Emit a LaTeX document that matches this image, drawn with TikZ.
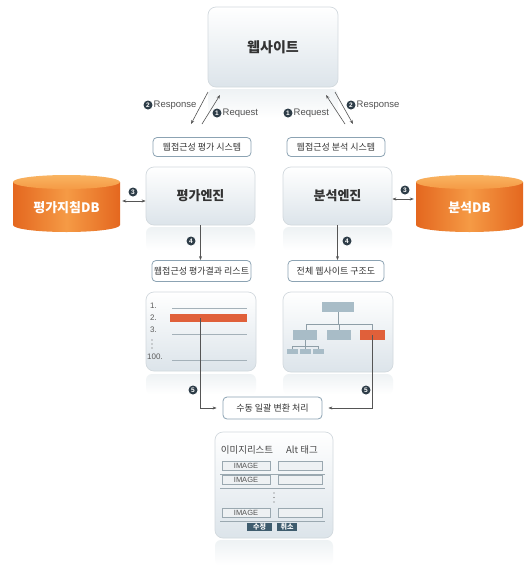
\documentclass[tikz,border=0pt]{standalone}
\usepackage{fontspec}
\setmainfont{Liberation Sans}
\newfontfamily\kr{Noto Sans CJK KR}
\usetikzlibrary{arrows.meta}
\definecolor{pborder}{HTML}{D2D9DE}
\definecolor{pbottom}{HTML}{DCE4EA}
\definecolor{lborder}{HTML}{8CA3B3}
\definecolor{txt}{HTML}{333333}
\definecolor{numfill}{HTML}{2E3D48}
\definecolor{arrc}{HTML}{555555}
\definecolor{orgdark}{HTML}{E4671F}
\definecolor{orglight}{HTML}{F59A45}
\definecolor{orgtop}{HTML}{F9B461}
\definecolor{redbar}{HTML}{E0603A}
\definecolor{treeblue}{HTML}{A8BCC7}
\definecolor{treeline}{HTML}{8E9EA7}
\definecolor{btn}{HTML}{3E5C6E}
\definecolor{cellfill}{HTML}{EEF1F3}
\definecolor{cellline}{HTML}{9AA8B0}
\definecolor{refltop}{HTML}{EEF2F4}
\begin{document}
\begin{tikzpicture}[x=1pt,y=-1pt,
  panel/.style={rounded corners=8pt, draw=pborder, line width=0.7pt, top color=white, bottom color=pbottom, inner sep=0pt, text=txt},
  refl/.style={rounded corners=6pt, top color=refltop, bottom color=white, draw=none},
  lbl/.style={rounded corners=4pt, draw=lborder, line width=0.8pt, fill=white, inner sep=0pt, text=txt, font=\kr\fontsize{9}{10}\selectfont},
  numc/.style={circle, fill=numfill, text=white, font=\bfseries\fontsize{6.5}{6.5}\selectfont, inner sep=0pt, minimum size=9pt},
  arr/.style={-{Stealth[length=4pt,width=3pt]}, draw=arrc, line width=0.6pt},
  darr/.style={{Stealth[length=4pt,width=3pt]}-{Stealth[length=4pt,width=3pt]}, draw=arrc, line width=0.6pt},
  smtxt/.style={text=txt!85, font=\fontsize{9.5}{10}\selectfont, inner sep=0pt, anchor=west},
  listtxt/.style={text=txt!80, font=\fontsize{8}{9}\selectfont, inner sep=0pt, anchor=west},
  cell/.style={fill=cellfill, draw=cellline, line width=0.5pt},
  tree/.style={fill=treeblue, draw=none},
  tln/.style={draw=treeline, line width=0.6pt},
  btnst/.style={fill=btn, text=white, inner sep=0pt, font=\kr\bfseries\fontsize{7}{7}\selectfont}
]
\useasboundingbox (0,0) rectangle (525,574);
\fill[white] (0,0) rectangle (525,574);

% reflections
\path[refl] (208,89) rectangle (338,118);
\path[refl] (146,227) rectangle (255,250);
\path[refl] (283,227) rectangle (392,250);
\path[refl] (146,374) rectangle (256,394);
\path[refl] (283,374) rectangle (393,394);
\path[refl] (215,540) rectangle (333,565);

% website
\node[panel, minimum width=130pt, minimum height=80pt, font=\kr\bfseries\fontsize{14}{16}\selectfont] (web) at (273,47) {웹사이트};

% system labels
\node[lbl, minimum width=98pt, minimum height=19pt] (sys1) at (202,147) {웹접근성 평가 시스템};
\node[lbl, minimum width=98pt, minimum height=19pt] (sys2) at (336,147) {웹접근성 분석 시스템};

% request / response arrows
\coordinate (lr1) at (208,92); \coordinate (lr2) at (191,124);
\coordinate (lq1) at (202,124); \coordinate (lq2) at (220,95);
\coordinate (rq1) at (345,124); \coordinate (rq2) at (326,95);
\coordinate (rr1) at (335,92); \coordinate (rr2) at (353,124);
\draw[arr] (lr1) -- (lr2);
\draw[arr] (lq1) -- (lq2);
\draw[arr] (rq1) -- (rq2);
\draw[arr] (rr1) -- (rr2);
\node[numc] (n2a) at (148,105) {2};
\node[smtxt] (t2a) at (153.5,105) {Response};
\node[numc] (n1a) at (217,113) {1};
\node[smtxt] (t1a) at (222.5,113) {Request};
\node[numc] (n1b) at (288,113) {1};
\node[smtxt] (t1b) at (293.5,113) {Request};
\node[numc] (n2b) at (351,105) {2};
\node[smtxt] (t2b) at (356.5,105) {Response};

% engines
\node[panel, minimum width=109pt, minimum height=58pt, font=\kr\bfseries\fontsize{13}{15}\selectfont] (eng1) at (200.5,196) {평가엔진};
\node[panel, minimum width=109pt, minimum height=58pt, font=\kr\bfseries\fontsize{13}{15}\selectfont] (eng2) at (337.5,196) {분석엔진};

% DB cylinders
\path[left color=orgdark, right color=orgdark, middle color=orglight]
  (13,182) -- (13,225) arc[start angle=180, end angle=360, x radius=53.5pt, y radius=7pt] -- (120,182) -- cycle;
\path[top color=orgtop, bottom color=orglight] (66.5,182) ellipse[x radius=53.5pt, y radius=7pt];
\path[left color=orgdark, right color=orgdark, middle color=orglight]
  (416,182) -- (416,225) arc[start angle=180, end angle=360, x radius=53.5pt, y radius=7pt] -- (523,182) -- cycle;
\path[top color=orgtop, bottom color=orglight] (469.5,182) ellipse[x radius=53.5pt, y radius=7pt];
\node[minimum width=107pt, minimum height=54pt, inner sep=0pt] (db1) at (66.5,201) {};
\node[text=white, font=\kr\bfseries\fontsize{13}{15}\selectfont, inner sep=0pt] (db1t) at (66.5,208) {평가지침DB};
\node[minimum width=107pt, minimum height=54pt, inner sep=0pt] (db2) at (469.5,199) {};
\node[text=white, font=\kr\bfseries\fontsize{13}{15}\selectfont, inner sep=0pt] (db2t) at (469.5,208) {분석DB};

\draw[darr] ([xshift=2pt]db1.east) -- (eng1.west |- db1.east);
\draw[darr] (eng2.east |- db2.west) -- ([xshift=-2pt]db2.west);
\node[numc] (n3a) at (133,192) {3};
\node[numc] (n3b) at (405,190) {3};

% result labels
\node[lbl, minimum width=99pt, minimum height=21pt] (res1) at (201.5,271) {웹접근성 평가결과 리스트};
\node[lbl, minimum width=96pt, minimum height=21pt] (res2) at (336,271) {전체 웹사이트 구조도};
\draw[arr] (eng1.south) -- (eng1.south |- res1.north);
\draw[arr] (eng2.south) -- (eng2.south |- res2.north);
\node[numc] (n4a) at (191,241) {4};
\node[numc] (n4b) at (347,241) {4};

% list panel
\node[panel, minimum width=110pt, minimum height=79pt] (list) at (201,331.5) {};
\node[listtxt] (l1) at (150,306) {1.};
\node[listtxt] (l2) at (150,318) {2.};
\node[listtxt] (l3) at (150,330) {3.};
\node[listtxt] (l100) at (147,357) {100.};
\draw[treeline!80, line width=0.6pt] (172,308) -- (247,308);
\draw[treeline!80, line width=0.6pt] (172,334) -- (247,334);
\draw[treeline!80, line width=0.6pt] (172,360) -- (247,360);
\node[fill=redbar, minimum width=77pt, minimum height=8pt, inner sep=0pt] (bar1) at (208.5,318) {};
\foreach \yy in {340,344,348} \fill[txt!80] (152,\yy) circle (0.7pt);

% tree panel
\node[panel, minimum width=110pt, minimum height=80pt] (treep) at (338,332) {};
\draw[tln] (338,312) -- (338,324);
\draw[tln] (306,330) -- (306,324) -- (372,324) -- (372,330);
\draw[tln] (339,324) -- (339,330);
\draw[tln] (292,349) -- (292,346) -- (318,346) -- (318,349);
\draw[tln] (305,340) -- (305,349);
\node[tree, minimum width=32pt, minimum height=10pt, inner sep=0pt] (troot) at (338,307) {};
\node[tree, minimum width=24pt, minimum height=10pt, inner sep=0pt] (tc1) at (305,335) {};
\node[tree, minimum width=24pt, minimum height=10pt, inner sep=0pt] (tc2) at (339,335) {};
\node[fill=redbar, minimum width=25pt, minimum height=10pt, inner sep=0pt] (red2) at (372.5,335) {};
\node[tree, minimum width=11pt, minimum height=5pt, inner sep=0pt] (tg1) at (292.5,351.5) {};
\node[tree, minimum width=11pt, minimum height=5pt, inner sep=0pt] (tg2) at (305.5,351.5) {};
\node[tree, minimum width=11pt, minimum height=5pt, inner sep=0pt] (tg3) at (318.5,351.5) {};

% process
\node[lbl, minimum width=99pt, minimum height=22pt] (proc) at (272.5,408) {수동 일괄 변환 처리};
\draw[arr] (eng1.south |- bar1.center) |- ([xshift=-6pt]proc.west);
\draw[arr] (red2.center) |- ([xshift=6pt]proc.east);
\node[numc] (n5a) at (193,390) {5};
\node[numc] (n5b) at (366,390) {5};

% bottom panel
\node[panel, minimum width=118pt, minimum height=106pt] (bottomp) at (274,485) {};
\node[text=txt!90, inner sep=0pt, font=\kr\fontsize{9.5}{10}\selectfont] (h1) at (247,450) {이미지리스트};
\node[text=txt!90, inner sep=0pt, font=\kr\fontsize{9.5}{10}\selectfont] (h2) at (302,450) {Alt 태그};
\foreach \ya/\yb/\yl/\nm in {461/470/474/a, 475/484/488/b, 508/517/521/c}{
  \path[cell] (222,\ya) rectangle (270,\yb);
  \path[cell] (278,\ya) rectangle (322,\yb);
  \node[text=txt!85, inner sep=0pt, font=\fontsize{7.5}{8}\selectfont] (img\nm) at (246,{(\ya+\yb)/2}) {IMAGE};
  \draw[cellline, line width=0.6pt] (220,\yl) -- (325,\yl);
}
\foreach \yy in {493,497.5,502} \fill[txt!80] (274,\yy) circle (0.7pt);
\node[btnst, minimum width=25pt, minimum height=8pt] (edit) at (259.5,527) {수정};
\node[btnst, minimum width=20pt, minimum height=8pt] (cancel) at (287,527) {취소};
\end{tikzpicture}
\end{document}
